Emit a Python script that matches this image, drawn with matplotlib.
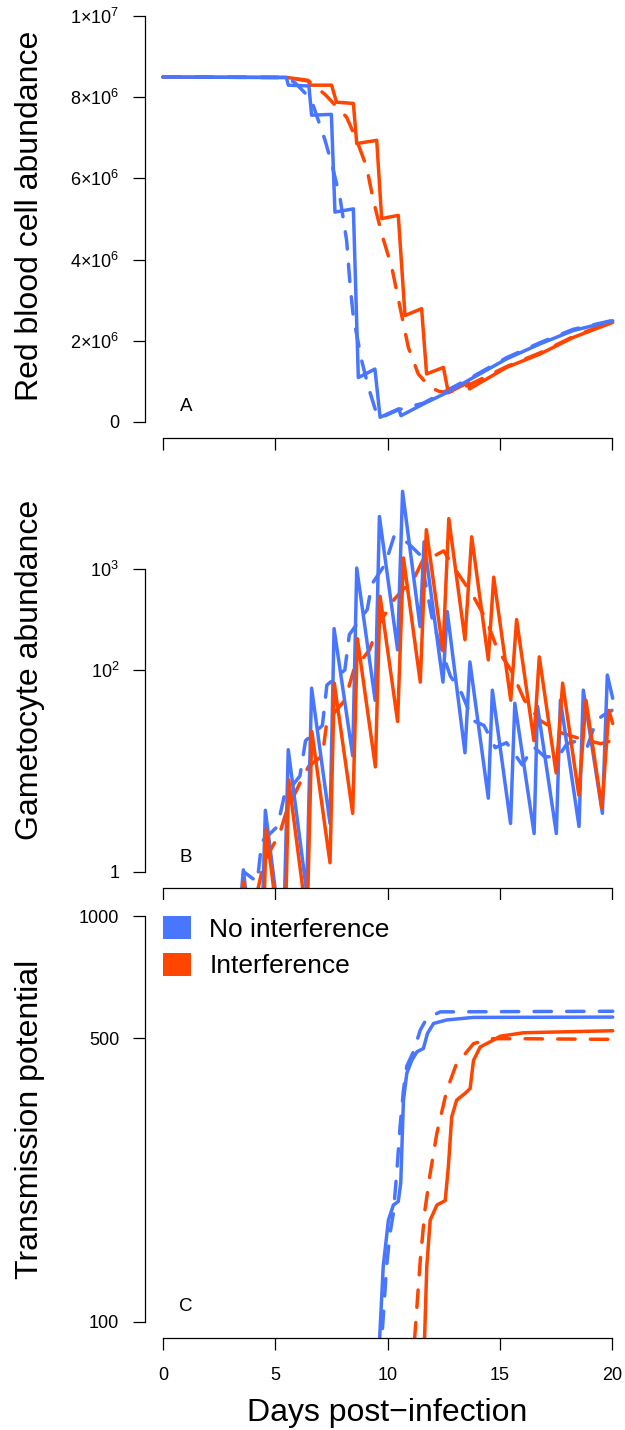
import matplotlib
matplotlib.use("Agg")
import matplotlib.pyplot as plt
import numpy as np
from matplotlib.patches import Patch
from matplotlib.ticker import NullLocator

plt.rcParams['font.family'] = ['Liberation Sans', 'DejaVu Sans']
plt.rcParams['mathtext.fontset'] = 'custom'
plt.rcParams['mathtext.rm'] = 'Liberation Sans'
plt.rcParams['mathtext.it'] = 'Liberation Sans:italic'
plt.rcParams['mathtext.bf'] = 'Liberation Sans:bold'

BLUE = '#4876FF'
RED = '#FF4500'

# ---- panel A: red blood cells (millions) ----
rbc_blue_days = [0, 5.5, 5.58, 6.5, 6.62, 7.5, 7.66, 8.48, 8.7, 9.44, 9.67, 10.5, 10.6,
                 11.6, 12.64, 13.82, 15.3, 16.79, 18.27, 20.03]
rbc_blue = [8.5, 8.49, 8.3, 8.28, 7.56, 7.58, 5.17, 5.25, 1.09, 1.3, 0.11, 0.32, 0.15,
            0.44, 0.72, 1.09, 1.55, 1.92, 2.25, 2.49]
rbc_blue_dash_days = [0, 5.5, 5.9, 6.6, 7.22, 7.51, 7.88, 8.18, 8.33, 8.48, 8.85, 9.15,
                      9.52, 9.7, 10.5, 11.6, 12.64, 13.82, 15.3, 16.79, 18.27, 20.03]
rbc_blue_dash = [8.5, 8.49, 8.35, 7.95, 6.94, 6.37, 5.54, 4.47, 3.4, 2.58, 1.51, 0.85,
                 0.19, 0.1, 0.3, 0.46, 0.77, 1.12, 1.58, 1.95, 2.28, 2.5]
rbc_red_days = [0, 5.5, 6.46, 6.55, 7.51, 7.73, 8.48, 8.63, 9.52, 9.74, 10.48, 10.78,
                11.52, 11.74, 12.49, 12.71, 13.6, 13.65, 15.3, 16.79, 18.27, 20.03]
rbc_red = [8.5, 8.49, 8.42, 8.3, 8.3, 7.88, 7.85, 6.86, 6.94, 5.01, 5.09, 2.62,
           2.79, 1.18, 1.34, 0.72, 0.97, 0.81, 1.34, 1.67, 2.08, 2.45]
rbc_red_dash_days = [0, 5.5, 6.5, 7.22, 8.18, 8.63, 9.07, 9.37, 9.74, 10.19, 10.56, 10.93,
                     11.37, 11.89, 12.3, 12.7, 13.6, 15.3, 16.79, 18.27, 20.03]
rbc_red_dash = [8.5, 8.49, 8.4, 8.07, 7.51, 6.94, 6.28, 5.46, 4.64, 3.81, 2.82, 1.83,
                1.18, 0.85, 0.75, 0.72, 0.9, 1.36, 1.7, 2.1, 2.48]

# ---- panel B: gametocytes (log10 abundance) ----
gam_blue_days = [3.0, 3.58, 4.3, 4.56, 5.35, 5.58, 6.4, 6.62, 7.44, 7.62, 8.45, 8.63,
                 9.45, 9.64, 10.45, 10.67, 11.45, 11.63, 12.47, 12.66, 13.45, 13.67,
                 14.49, 14.67, 15.48, 15.67, 16.53, 16.68, 17.52, 17.7, 18.53, 18.72,
                 19.57, 19.79, 20.03]
gam_blue = [-1.5, 0.02, -1.4, 0.61, -0.8, 1.21, -0.2, 1.82, 0.48, 2.41, 1.15, 3.01,
            1.7, 3.52, 2.2, 3.77, 2.43, 3.27, 1.88, 2.58, 1.18, 2.08,
            0.73, 1.8, 0.48, 1.67, 0.38, 1.64, 0.38, 1.7, 0.45, 1.8,
            0.58, 1.95, 1.72]
gam_blue_dash_days = [3.3, 3.6, 4.2, 4.4, 5.1, 5.4, 6.1, 6.35, 7.1, 7.3, 8.1, 8.3, 9.1,
                      9.3, 9.9, 10.3, 10.9, 11.45, 12.0, 12.4, 12.8, 13.3, 13.8, 14.3,
                      14.8, 15.3, 16.0, 16.5, 17.0, 17.6, 18.0, 18.5, 18.9, 19.3, 19.6, 20.0]
gam_blue_dash = [-0.7, 0.0, -0.1, 0.3, 0.45, 0.75, 0.95, 1.3, 1.45, 1.85, 2.0, 2.35, 2.6,
                 2.85, 3.05, 3.33, 3.26, 3.14, 2.5, 2.2, 1.94, 1.77, 1.5, 1.45,
                 1.23, 1.28, 1.06, 1.24, 1.14, 1.14, 1.27, 1.3, 1.24, 1.5, 1.55, 1.6]
gam_red_days = [3.0, 3.6, 4.35, 4.6, 5.4, 5.6, 6.42, 6.63, 7.44, 7.63, 8.45, 8.66,
                9.46, 9.67, 10.45, 10.71, 11.46, 11.73, 12.47, 12.73, 13.45, 13.75,
                14.49, 14.73, 15.49, 15.75, 16.52, 16.76, 17.51, 17.8, 18.52, 18.84,
                19.55, 19.86, 20.03]
gam_red = [-1.8, -0.1, -1.5, 0.42, -1.0, 0.91, -0.5, 1.39, 0.09, 1.87, 0.58, 2.31,
           1.04, 2.73, 1.49, 3.11, 1.88, 3.39, 2.19, 3.5, 2.3, 3.32,
           2.1, 2.92, 1.7, 2.5, 1.3, 2.13, 0.98, 1.87, 0.76, 1.7,
           0.63, 1.6, 1.47]
gam_red_dash_days = [3.5, 4.1, 4.5, 5.2, 5.5, 6.1, 6.5, 7.1, 7.3, 8.1, 8.5, 9.2, 9.6,
                     10.3, 10.7, 11.1, 11.6, 12.0, 12.5, 13.1, 13.8, 14.4, 14.9, 15.5,
                     16.1, 16.8, 17.7, 18.57, 19.5, 20.0]
gam_red_dash = [-0.8, -0.3, 0.1, 0.38, 0.6, 0.88, 1.05, 1.15, 1.49, 1.7, 2.0, 2.2, 2.45,
                2.7, 2.8, 2.87, 3.1, 3.12, 3.18, 2.97, 2.74, 2.5, 2.2, 2.0,
                1.7, 1.5, 1.38, 1.32, 1.27, 1.3]

# ---- panel C: cumulative transmission potential ----
tp_blue_days = [9.6, 9.81, 10.04, 10.26, 10.48, 10.59, 10.71, 10.86, 11.08, 11.31, 11.6,
                11.78, 12.05, 12.64, 13.83, 20.03]
tp_blue = [80, 137, 178, 194, 198, 220, 352, 410, 441, 463, 472, 514, 544, 555, 563, 564]
tp_blue_dash_days = [9.68, 9.96, 10.11, 10.26, 10.41, 10.56, 10.71, 10.86, 11.16, 11.46,
                     11.75, 12.35, 20.03]
tp_blue_dash = [80, 137, 165, 185, 232, 303, 372, 427, 464, 524, 560, 581, 583]
tp_red_days = [11.62, 11.75, 11.9, 12.2, 12.57, 12.71, 12.86, 13.08, 13.46, 13.68, 13.83,
               14.13, 14.72, 15.02, 16.06, 20.03]
tp_red = [80, 137, 178, 194, 199, 241, 320, 352, 366, 376, 441, 476, 495, 506, 516, 522]
tp_red_dash_days = [11.1, 11.46, 11.67, 11.9, 12.2, 12.64, 13.08, 13.46, 13.83, 14.57,
                    15.61, 20.03]
tp_red_dash = [75, 142, 189, 232, 292, 372, 434, 458, 485, 499, 499, 497]

day_ticks = [0, 5, 10, 15, 20]
legend_labels = ['No interference', 'Interference']

W, H = 625, 1430
fig = plt.figure(figsize=(W / 100, H / 100), dpi=100)


def box(l, t, r, b):
    return [l / W, 1 - b / H, (r - l) / W, (b - t) / H]


axA = fig.add_axes(box(145, 0, 630, 438))
axB = fig.add_axes(box(145, 452, 630, 888))
axC = fig.add_axes(box(145, 900, 630, 1338))

LW = 2.5
DASH = (0, (5, 4.4))


def draw(ax, days, vals, color, dashed=False):
    if dashed:
        ax.plot(days, vals, color=color, lw=LW, ls=DASH, dash_capstyle='round',
                dash_joinstyle='round')
    else:
        ax.plot(days, vals, color=color, lw=LW, solid_capstyle='round',
                solid_joinstyle='round')


def style(ax, yticks, ylabels, show_x=False):
    for s in ['top', 'right']:
        ax.spines[s].set_visible(False)
    for s in ['left', 'bottom']:
        ax.spines[s].set_linewidth(0.9)
    ax.set_xlim(-0.8, 20.8)
    ax.spines['bottom'].set_bounds(0, 20)
    ax.spines['left'].set_bounds(yticks[0], yticks[-1])
    ax.set_xticks(day_ticks)
    if show_x:
        ax.set_xticklabels([str(d) for d in day_ticks])
    else:
        ax.set_xticklabels([])
    ax.set_yticks(yticks)
    ax.set_yticklabels(ylabels)
    ax.yaxis.set_minor_locator(NullLocator())
    ax.xaxis.set_minor_locator(NullLocator())
    ax.tick_params(axis='both', direction='out', length=8.6, width=0.9,
                   labelsize=13)
    ax.tick_params(axis='x', pad=12)
    ax.tick_params(axis='y', pad=10)


# panel A
m = 1e6
draw(axA, rbc_red_dash_days, np.array(rbc_red_dash) * m, RED, True)
draw(axA, rbc_blue_dash_days, np.array(rbc_blue_dash) * m, BLUE, True)
draw(axA, rbc_red_days, np.array(rbc_red) * m, RED)
draw(axA, rbc_blue_days, np.array(rbc_blue) * m, BLUE)
axA.set_ylim(-0.4e6, 10.4e6)
style(axA, [0, 2e6, 4e6, 6e6, 8e6, 1e7],
      ['0', '2\u00d710$^{6}$', '4\u00d710$^{6}$', '6\u00d710$^{6}$',
       '8\u00d710$^{6}$', '1\u00d710$^{7}$'])

# panel B
draw(axB, gam_blue_dash_days, 10 ** np.array(gam_blue_dash), BLUE, True)
draw(axB, gam_red_dash_days, 10 ** np.array(gam_red_dash), RED, True)
draw(axB, gam_blue_days, 10 ** np.array(gam_blue), BLUE)
draw(axB, gam_red_days, 10 ** np.array(gam_red), RED)
axB.set_yscale('log')
axB.set_ylim(10 ** -0.16, 10 ** 4.16)
style(axB, [1, 100, 1000], ['1', '10$^{2}$', '10$^{3}$'])

# panel C
draw(axC, tp_blue_dash_days, tp_blue_dash, BLUE, True)
draw(axC, tp_red_dash_days, tp_red_dash, RED, True)
draw(axC, tp_blue_days, tp_blue, BLUE)
draw(axC, tp_red_days, tp_red, RED)
axC.set_yscale('log')
axC.set_ylim(10 ** 1.96, 10 ** 3.04)
style(axC, [100, 500, 1000], ['100', '500', '1000'], show_x=True)

handles = [Patch(facecolor=BLUE, edgecolor='none'), Patch(facecolor=RED, edgecolor='none')]
axC.legend(handles, legend_labels, loc='upper left', bbox_to_anchor=(0.037, 0.963),
           frameon=False, fontsize=19, handlelength=1.05, handleheight=0.95,
           handletextpad=0.7, labelspacing=0.42, borderpad=0, borderaxespad=0)

for ax, letter in [(axA, 'A'), (axB, 'B'), (axC, 'C')]:
    ax.text(0.085, 0.071, letter, transform=ax.transAxes, fontsize=13.5,
            ha='center', va='center')

ylab_x = 30 / W
fig.text(ylab_x, 1 - 216 / H, 'Red blood cell abundance', rotation=90,
         ha='center', va='center', fontsize=23)
fig.text(ylab_x, 1 - 670 / H, 'Gametocyte abundance', rotation=90,
         ha='center', va='center', fontsize=23)
fig.text(ylab_x, 1 - 1119 / H, 'Transmission potential', rotation=90,
         ha='center', va='center', fontsize=23)
fig.text(387.5 / W, 1 - 1421 / H, 'Days post\u2212infection', ha='center',
         va='baseline', fontsize=23)

fig.savefig('out.png', dpi=100)
